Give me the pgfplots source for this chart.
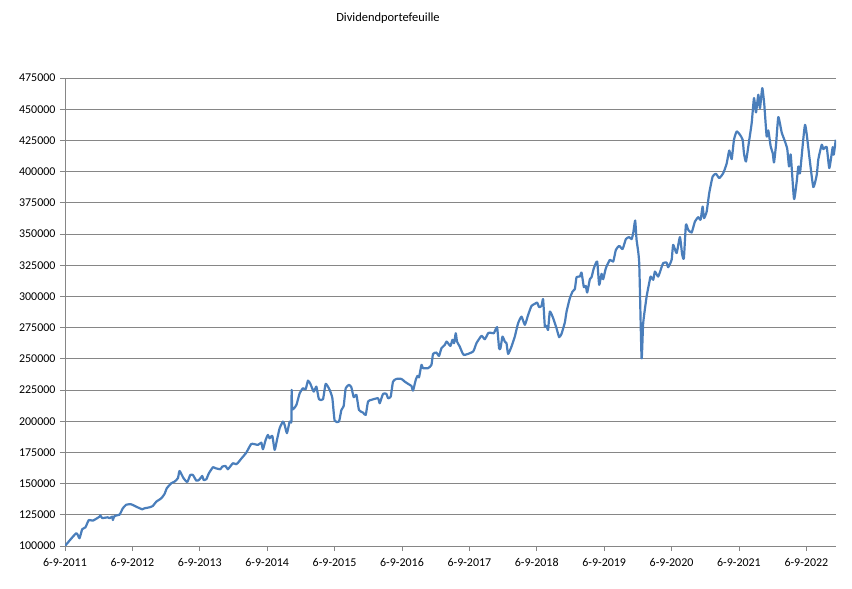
\documentclass[border=0pt]{standalone}
\usepackage{fontspec}
\setmainfont{Carlito}
\usepackage{pgfplots}
\pgfplotsset{compat=1.18}
\definecolor{serieblue}{HTML}{4A7EBB}
\definecolor{gridgray}{HTML}{868686}

\begin{document}
\begin{tikzpicture}
\path[use as bounding box] (0,0) rectangle (852bp,589bp);
\node[font=\fontsize{12.5}{15}\selectfont] at (388bp,571bp) {Dividendportefeuille};
\begin{axis}[
  at={(65bp,43bp)}, anchor=south west,
  scale only axis, width=771bp, height=468bp,
  xmin=0, xmax=11.44, ymin=100000, ymax=475000,
  axis x line*=bottom, axis y line*=left,
  axis line style={draw=gridgray, line width=0.8bp},
  every tick/.style={draw=gridgray, line width=0.8bp},
  tick align=outside, major tick length=5bp,
  xtick={0,1,2,3,4,5,6,7,8,9,10,11},
  xticklabels={6-9-2011,6-9-2012,6-9-2013,6-9-2014,6-9-2015,6-9-2016,6-9-2017,6-9-2018,6-9-2019,6-9-2020,6-9-2021,6-9-2022},
  ytick={100000,125000,...,475000},
  ymajorgrids, grid style={draw=gridgray, line width=0.8bp},
  scaled y ticks=false,
  /pgf/number format/.cd, fixed, 1000 sep={}, assume math mode=true,
  /pgfplots/.cd,
  tick label style={font=\fontsize{12}{14}\selectfont, text=black},
  xticklabel style={yshift=-4bp},
  yticklabel style={xshift=-1bp},
]
\addplot[serieblue, line width=2.2bp, line join=round, smooth, tension=0.3] table {
x y
0.000 100000
0.166 110200
0.215 106200
0.255 113400
0.304 115000
0.353 120800
0.413 120300
0.512 123500
0.523 124600
0.552 122400
0.635 123000
0.661 122200
0.701 123500
0.710 120800
0.735 124100
0.809 125100
0.858 130200
0.909 133100
0.983 133400
1.057 131500
1.146 129400
1.180 130200
1.255 131000
1.304 132100
1.354 135500
1.428 138200
1.477 141700
1.511 146300
1.577 150300
1.626 151600
1.675 154300
1.700 160100
1.759 154300
1.814 151300
1.859 156900
1.898 156900
1.948 152400
1.987 152900
2.037 156100
2.056 152900
2.097 153500
2.135 158300
2.195 163100
2.235 162300
2.304 161500
2.334 163600
2.383 164100
2.417 161500
2.491 166300
2.542 165500
2.581 167600
2.616 170000
2.690 174800
2.765 181800
2.863 181000
2.913 182800
2.937 177500
2.977 185000
3.011 189000
3.036 186300
3.076 188200
3.111 177000
3.145 185000
3.185 194400
3.234 199700
3.259 197000
3.293 190400
3.333 199700
3.359 199700
3.363 225100
3.373 209600
3.433 213000
3.482 222400
3.531 226400
3.571 225600
3.605 232500
3.641 229900
3.690 223700
3.730 227700
3.768 217600
3.828 217600
3.868 229900
3.927 225100
3.967 218400
4.001 200500
4.065 199700
4.101 209000
4.135 212200
4.165 226400
4.214 229100
4.249 227200
4.284 219200
4.324 221100
4.362 209000
4.422 206900
4.462 205000
4.496 215700
4.546 217100
4.644 218400
4.670 214400
4.719 221900
4.769 221900
4.793 218400
4.833 219700
4.867 231700
4.918 233900
4.992 233900
5.041 231700
5.115 229100
5.140 228300
5.164 224500
5.204 233100
5.229 236300
5.253 235200
5.289 245100
5.312 242500
5.387 242500
5.437 245100
5.461 253900
5.511 255000
5.550 252300
5.586 258500
5.635 261100
5.660 263800
5.684 262500
5.719 260300
5.749 265200
5.773 262500
5.798 270500
5.817 263800
5.857 259800
5.917 253100
6.055 255800
6.105 262500
6.180 268400
6.229 265700
6.278 270500
6.303 271000
6.363 270500
6.411 275300
6.441 258500
6.462 258500
6.491 267800
6.526 263800
6.551 262500
6.575 253900
6.625 259800
6.674 267800
6.723 278500
6.774 283800
6.823 277200
6.872 285200
6.922 292400
6.971 294000
7.005 295100
7.035 291400
7.071 292400
7.094 297800
7.120 275800
7.145 276400
7.168 273200
7.194 287800
7.243 282600
7.293 274500
7.332 267300
7.367 270000
7.416 279000
7.442 287800
7.491 298600
7.531 303900
7.565 305800
7.590 315400
7.639 315900
7.664 319100
7.699 307400
7.728 308400
7.748 303100
7.788 313800
7.813 315400
7.847 322600
7.896 327900
7.926 309200
7.961 318100
7.985 313800
8.025 322600
8.085 329300
8.134 327900
8.174 337300
8.223 340500
8.273 337900
8.322 345900
8.371 347500
8.407 345900
8.431 350700
8.460 360800
8.481 345300
8.520 326700
8.555 250500
8.579 278500
8.630 299900
8.668 310600
8.689 315900
8.728 313300
8.753 319900
8.802 315900
8.852 323400
8.876 326700
8.926 327100
8.950 323400
9.001 329300
9.024 341300
9.075 334700
9.124 347500
9.158 333300
9.183 330700
9.213 357400
9.247 353300
9.298 351200
9.347 360000
9.396 363500
9.431 361400
9.461 372000
9.481 362700
9.521 368000
9.559 382800
9.610 396100
9.659 398200
9.708 394800
9.767 398800
9.817 406300
9.856 416900
9.892 410000
9.926 425500
9.966 432200
10.015 429500
10.055 425500
10.074 414800
10.104 408100
10.153 425500
10.189 438900
10.223 458900
10.253 447400
10.287 461600
10.312 450900
10.346 466900
10.376 453600
10.411 428100
10.435 433000
10.471 420100
10.501 414800
10.520 407300
10.550 421500
10.584 443700
10.634 431400
10.683 424100
10.717 418000
10.743 404100
10.768 413500
10.817 378000
10.857 392100
10.881 404100
10.906 398800
10.980 437500
11.044 412100
11.103 387600
11.154 397400
11.178 410000
11.228 421500
11.252 418000
11.302 419600
11.341 402800
11.391 419600
11.406 413500
11.436 425500
};
\end{axis}
\end{tikzpicture}
\end{document}
